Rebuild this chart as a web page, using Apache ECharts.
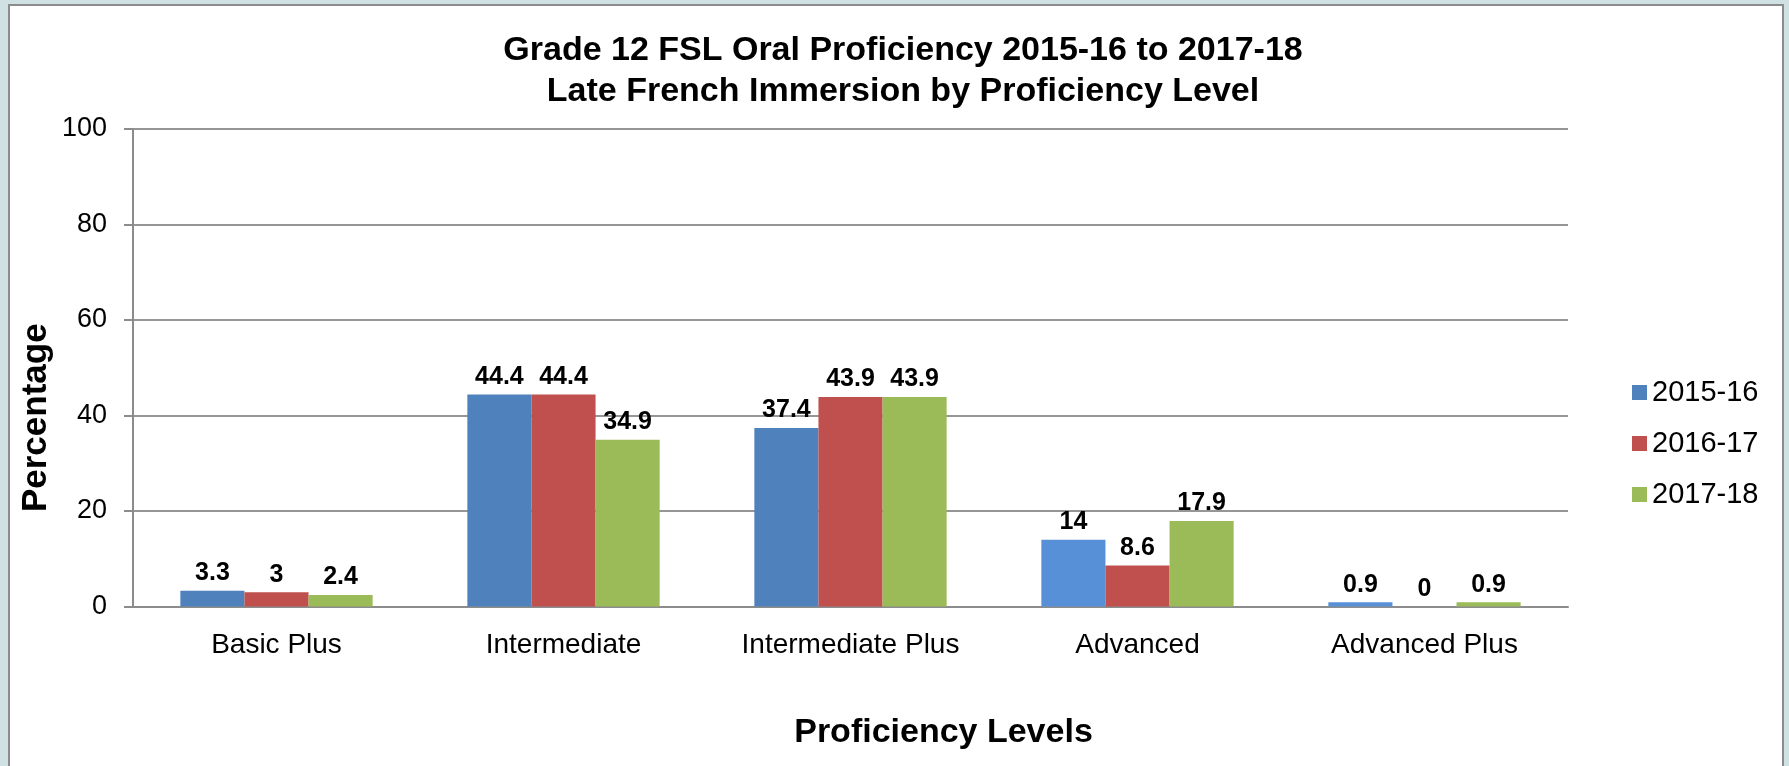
<!DOCTYPE html>
<html>
<head>
<meta charset="utf-8">
<script src="https://cdn.jsdelivr.net/npm/echarts@6/dist/echarts.min.js"></script>
<style>
  html, body { margin: 0; padding: 0; width: 1789px; height: 766px; overflow: hidden; background: #d0e1e3; }
  #panel { position: absolute; left: 8px; top: 4px; width: 1772px; height: 800px; background: #ffffff; border: 2px solid #8c8c8c; }
  #chart { position: absolute; left: 0; top: 0; width: 1789px; height: 766px; }
</style>
</head>
<body>
<div id="panel"></div>
<div id="chart"></div>
<script>
const categories = ['Basic Plus', 'Intermediate', 'Intermediate Plus', 'Advanced', 'Advanced Plus'];
const seriesNames = ['2015-16', '2016-17', '2017-18'];
const values2015 = [3.3, 44.4, 37.4, 14, 0.9];
const values2016 = [3, 44.4, 43.9, 8.6, 0];
const values2017 = [2.4, 34.9, 43.9, 17.9, 0.9];
const yTicks = { min: 0, max: 100, interval: 20 };
const colors = ['#4f81bd', '#c0504d', '#9bbb59'];
const lightBlue = '#5790d6';

const FONT = 'Liberation Sans, Arial, sans-serif';
const chart = echarts.init(document.getElementById('chart'), null, { renderer: 'canvas' });

const labelCfg = {
  show: true,
  position: 'top',
  distance: 5,
  color: '#000',
  fontFamily: FONT,
  fontWeight: 'bold',
  fontSize: 25
};

const allValues = [values2015, values2016, values2017];

chart.setOption({
  backgroundColor: 'transparent',
  animation: false,
  color: colors,
  title: {
    text: 'Grade 12 FSL Oral Proficiency 2015-16 to 2017-18\nLate French Immersion by Proficiency Level',
    left: 903,
    top: 30,
    textAlign: 'center',
    padding: 0,
    textStyle: {
      fontFamily: FONT,
      fontWeight: 'bold',
      fontSize: 34,
      lineHeight: 41,
      color: '#000'
    }
  },
  legend: {
    orient: 'vertical',
    left: 1632,
    top: 378,
    itemWidth: 15,
    itemHeight: 15,
    itemGap: 22,
    icon: 'rect',
    padding: 0,
    data: seriesNames,
    textStyle: {
      fontFamily: FONT,
      fontSize: 29,
      lineHeight: 27,
      color: '#000'
    }
  },
  grid: {
    left: 133,
    right: 221,
    top: 129,
    bottom: 159.5,
    containLabel: false
  },
  xAxis: {
    type: 'category',
    data: categories,
    name: 'Proficiency Levels',
    nameLocation: 'middle',
    nameGap: 109,
    nameTextStyle: {
      fontFamily: FONT,
      fontWeight: 'bold',
      fontSize: 34,
      color: '#000',
      padding: [0, 0, 0, 186]
    },
    axisLine: { show: true, lineStyle: { color: '#8c8c8c', width: 2 } },
    axisTick: { show: false },
    axisLabel: {
      margin: 25,
      fontFamily: FONT,
      fontSize: 28,
      color: '#000'
    },
    splitLine: { show: false }
  },
  yAxis: {
    type: 'value',
    min: yTicks.min,
    max: yTicks.max,
    interval: yTicks.interval,
    name: 'Percentage',
    nameLocation: 'middle',
    nameGap: 79,
    nameMoveOverlap: false,
    nameTextStyle: {
      fontFamily: FONT,
      fontWeight: 'bold',
      fontSize: 35,
      color: '#000',
      padding: [0, 100, 0, 0]
    },
    axisLine: { show: true, lineStyle: { color: '#8c8c8c', width: 2 } },
    axisTick: { show: true, inside: false, length: 9, lineStyle: { color: '#8c8c8c', width: 2 } },
    axisLabel: {
      margin: 26,
      fontFamily: FONT,
      fontSize: 27,
      color: '#000'
    },
    splitLine: { show: true, lineStyle: { color: '#969696', width: 2 } }
  },
  series: seriesNames.map((name, i) => ({
    name: name,
    type: 'bar',
    data: allValues[i],
    barGap: '0%',
    barCategoryGap: '33%',
    itemStyle: {
      color: i === 0 ? (p) => (p.dataIndex >= 3 ? lightBlue : colors[0]) : colors[i]
    },
    label: labelCfg
  }))
});
</script>
</body>
</html>
